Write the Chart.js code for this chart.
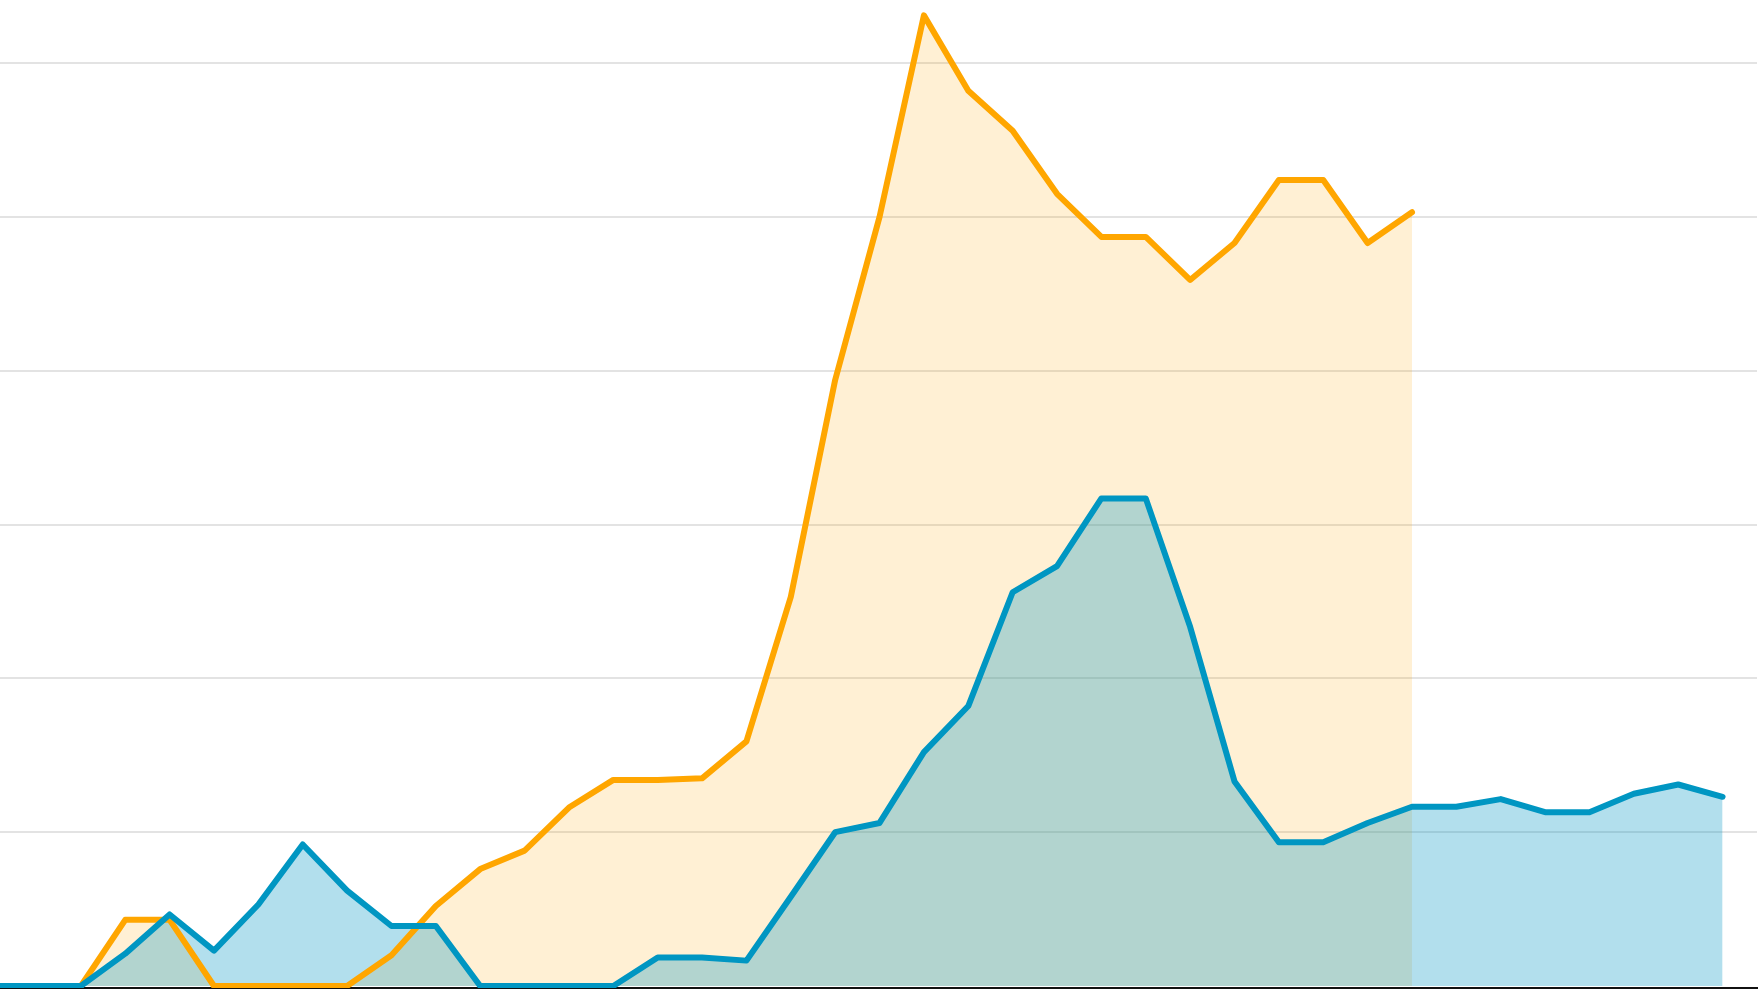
<!DOCTYPE html>
<html>
<head>
<meta charset="utf-8">
<script src="https://cdn.jsdelivr.net/npm/chart.js@4"></script>
<style>
html,body{margin:0;padding:0;background:#fff;}
#wrap{width:1761px;height:991px;position:relative;}
</style>
</head>
<body>
<div id="wrap"><canvas id="c" width="1761" height="991"></canvas></div>
<script>
// Period index (two leading empty periods, then 38 periods)
const periods = [-2,-1,0,1,2,3,4,5,6,7,8,9,10,11,12,13,14,15,16,17,18,19,20,21,22,23,24,25,26,27,28,29,30,31,32,33,34,35,36,37];
// Orange series (ends at period 30)
const orangeValues = [0,0, 0,4.3,4.3,0,0,0,0,2.0,5.2,7.6,8.8,11.6,13.4,13.4,13.5,15.9,25.3,39.4,50.0,63.1,58.2,55.6,51.5,48.7,48.7,45.9,48.3,52.4,52.4,48.3,50.3];
// Blue series
const blueValues = [0,0, 0,2.1,4.65,2.3,5.3,9.2,6.2,3.9,3.9,0,0,0,0,1.85,1.85,1.65,5.8,10.0,10.6,15.2,18.2,25.6,27.3,31.7,31.7,23.35,13.3,9.35,9.35,10.6,11.65,11.65,12.15,11.3,11.3,12.5,13.1,12.3];
// Gridline values
const gridTicks = [10,20,30,40,50,60];

const toPts = vals => vals.map((v,i)=>({x:periods[i], y:v}));

new Chart(document.getElementById('c'), {
  type: 'line',
  data: {
    datasets: [
      {
        data: toPts(blueValues),
        borderColor: '#0096c2',
        backgroundColor: 'rgba(0,150,195,0.3)',
        borderWidth: 6,
        fill: 'origin',
        pointRadius: 0,
        tension: 0,
        borderJoinStyle: 'round',
        borderCapStyle: 'round'
      },
      {
        data: toPts(orangeValues),
        borderColor: '#ffa600',
        backgroundColor: 'rgba(255,166,0,0.17)',
        borderWidth: 6,
        fill: 'origin',
        pointRadius: 0,
        tension: 0,
        borderJoinStyle: 'round',
        borderCapStyle: 'round'
      }
    ]
  },
  options: {
    responsive: false,
    animation: false,
    layout: { padding: { left: 0, right: 4, top: 0, bottom: 3 } },
    plugins: {
      legend: { display: false },
      tooltip: { enabled: false },
      filler: { drawTime: 'beforeDatasetsDraw' }
    },
    scales: {
      x: {
        type: 'linear',
        min: -1.823,
        max: 37.776,
        display: true,
        ticks: { display: false },
        grid: { display: false, drawTicks: false },
        border: { display: true, color: '#111', width: 2 }
      },
      y: {
        min: -0.13,
        max: 64.1,
        display: true,
        afterBuildTicks: axis => { axis.ticks = gridTicks.map(v => ({value: v})); },
        ticks: { display: false },
        grid: { color: '#e3e3e3', lineWidth: 2, drawTicks: false },
        border: { display: false }
      }
    }
  }
});
</script>
</body>
</html>
